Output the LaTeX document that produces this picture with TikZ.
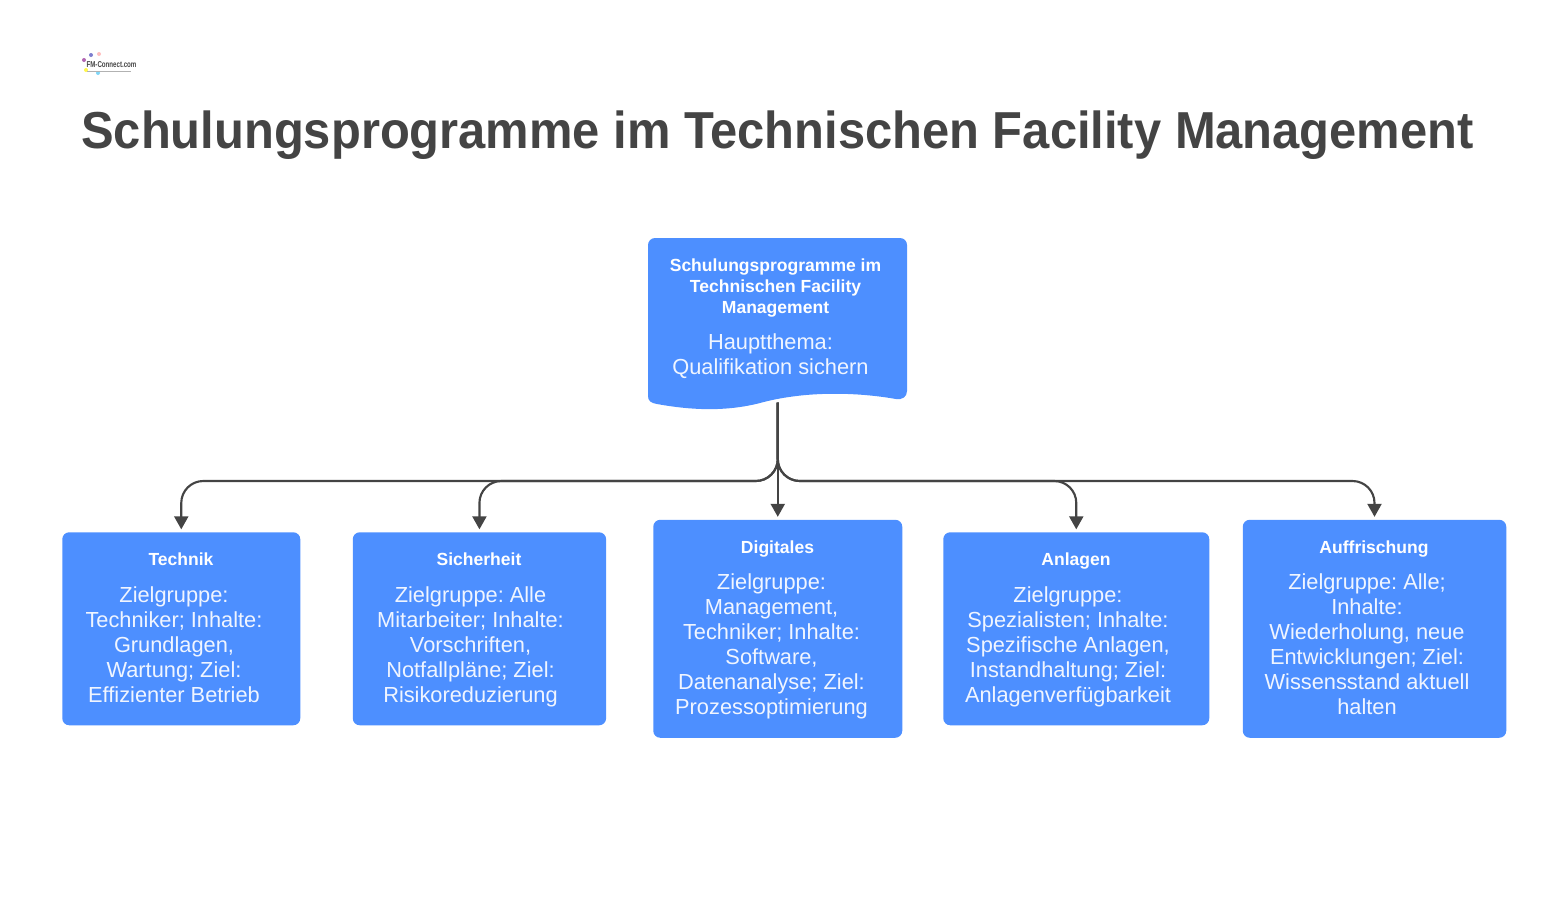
\documentclass[tikz,border=0pt]{standalone}
\usepackage{fontspec}
\setmainfont{Liberation Sans}
\newfontfamily\titlefont[FakeStretch=0.94]{Liberation Sans}
\newfontfamily\logofont[FakeStretch=0.72]{Liberation Sans}
\frenchspacing
\usetikzlibrary{arrows.meta}
\definecolor{boxblue}{HTML}{4D8FFF}
\definecolor{ink}{HTML}{444444}
\definecolor{bodyw}{HTML}{F0F5FF}
\tikzset{
  x=0.75pt,y=-0.75pt,
  card/.style={fill=boxblue,draw=none,rounded corners=5.25pt,inner sep=0pt,anchor=north west},
  headt/.style={text=white,align=center,font=\bfseries\fontsize{13.15pt}{15.75pt}\selectfont,inner sep=0pt},
  bodyt/.style={text=bodyw,align=center,font=\fontsize{16.35pt}{18.75pt}\selectfont,inner sep=0pt},
  maint/.style={text=ink,font=\titlefont\bfseries\fontsize{39pt}{46pt}\selectfont,inner sep=0pt},
  link/.style={draw=ink,line width=1.6pt,rounded corners=16.5pt,-{Triangle[length=9.75pt,width=10.5pt]},shorten >=2pt},
}
\begin{document}
\begin{tikzpicture}
\useasboundingbox (0,0) rectangle (1558,900);
% logo
\foreach \px/\py/\c in {91/55/blue!45!gray!70,98/73/cyan!50,86/70/yellow!70,84/60/violet!60,99/54/pink}
  \fill[\c] (\px,\py) circle (1.5pt);
\node[text=ink,inner sep=0pt,font=\logofont\bfseries\fontsize{6.4pt}{7pt}\selectfont] (logo) at (111.5,65) {FM-Connect.com};
\fill[gray!60] (logo.south west) ++(1,2.5) rectangle ++(44,1.2);
\node[maint] (title) at (777.5,135.5) {Schulungsprogramme im Technischen Facility Management};
% root
\fill[boxblue] (655,238) -- (900,238) arc[start angle=90,end angle=0,radius=5.25pt] -- (907,391)
  .. controls (907,397) and (902,400) .. (896,399)
  .. controls (850,391) and (800,392) .. (760,403)
  .. controls (725,412) and (690,410) .. (657,404)
  .. controls (651,403) and (648,401) .. (648,396) -- (648,245) arc[start angle=180,end angle=90,radius=5.25pt] -- cycle;
\node[inner sep=0pt,minimum width=194.25pt,minimum height=123pt,anchor=north west] (root) at (648,238) {};
\node[headt] (roothead) at (775.5,288) {\strut Schulungsprogramme im\\Technischen Facility\\Management\strut};
\node[bodyt] (rootbody) at (770.5,356.5) {\strut Hauptthema:\\Qualifikation sichern\strut};
% cards
\node[card,minimum width=178.5pt,minimum height=144.75pt] (a) at (62,532) {};
\node[card,minimum width=190pt,minimum height=144.75pt] (b) at (352.5,532) {};
\node[card,minimum width=186.75pt,minimum height=163.5pt] (c) at (653,519.5) {};
\node[card,minimum width=199.5pt,minimum height=144.75pt] (d) at (943,532) {};
\node[card,minimum width=197.6pt,minimum height=163.5pt] (e) at (1242.5,519.5) {};
\node[headt] (ah) at (181,561.5) {\strut Technik\strut};
\node[headt] (bh) at (479,561.5) {\strut Sicherheit\strut};
\node[headt] (ch) at (777.5,549) {\strut Digitales\strut};
\node[headt] (dh) at (1076,561.5) {\strut Anlagen\strut};
\node[headt] (eh) at (1374,549) {\strut Auffrischung\strut};
\node[bodyt] (ab) at (174,647) {\strut Zielgruppe:\\Techniker; Inhalte:\\Grundlagen,\\Wartung; Ziel:\\Effizienter Betrieb\strut};
\node[bodyt] (bb) at (470.5,647) {\strut Zielgruppe: Alle\\Mitarbeiter; Inhalte:\\Vorschriften,\\Notfallpläne; Ziel:\\Risikoreduzierung\strut};
\node[bodyt] (cb) at (771.5,647) {\strut Zielgruppe:\\Management,\\Techniker; Inhalte:\\Software,\\Datenanalyse; Ziel:\\Prozessoptimierung\strut};
\node[bodyt] (db) at (1068,647) {\strut Zielgruppe:\\Spezialisten; Inhalte:\\Spezifische Anlagen,\\Instandhaltung; Ziel:\\Anlagenverfügbarkeit\strut};
\node[bodyt] (eb) at (1367,647) {\strut Zielgruppe: Alle;\\Inhalte:\\Wiederholung, neue\\Entwicklungen; Ziel:\\Wissensstand aktuell\\halten\strut};
% connectors
\coordinate (bus) at (778,481);
\foreach \t in {a,b,d,e}
  \draw[link] (root.south) -- (root.south |- bus) -- (bus -| \t.north) -- (\t.north);
\draw[link] (root.south) -- (c.north);
\end{tikzpicture}
\end{document}
